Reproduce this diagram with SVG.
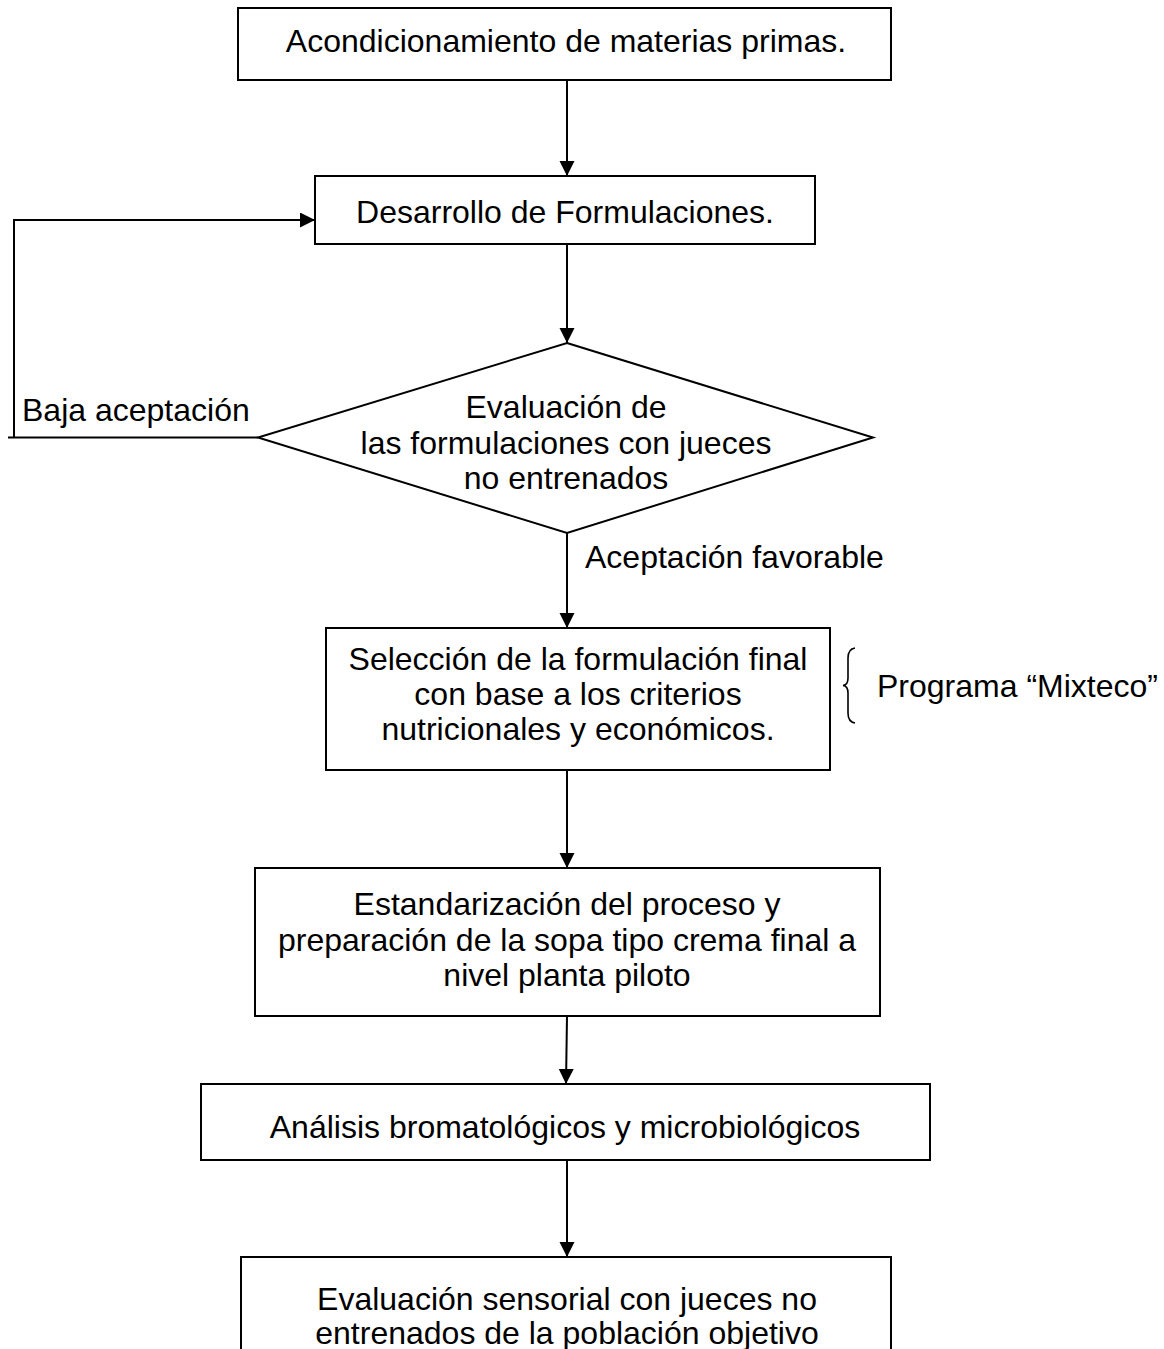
<svg xmlns="http://www.w3.org/2000/svg" width="1164" height="1349" viewBox="0 0 1164 1349">
<style>
.box{fill:#fff;stroke:#000;stroke-width:2}
.ln{fill:none;stroke:#000;stroke-width:2}
text{font-family:"Liberation Sans",Arial,sans-serif;font-size:32px;fill:#000}
.c{text-anchor:middle}
</style>
<defs>
<marker id="ah" markerUnits="userSpaceOnUse" markerWidth="16" markerHeight="16" refX="15" refY="7.5" orient="auto">
<path d="M0,0 L15,7.5 L0,15 z" fill="#000"/>
</marker>
</defs>
<rect width="1164" height="1349" fill="#fff"/>
<g id="connectors">
<line class="ln" x1="567" y1="80" x2="567" y2="176" marker-end="url(#ah)"/>
<line class="ln" x1="567" y1="244" x2="567" y2="343" marker-end="url(#ah)"/>
<polyline class="ln" points="258,437.5 8,437.5"/>
<polyline class="ln" points="14,437 14,220 315,220" marker-end="url(#ah)"/>
<line class="ln" x1="567" y1="533" x2="567" y2="628" marker-end="url(#ah)"/>
<line class="ln" x1="567" y1="770" x2="567" y2="868" marker-end="url(#ah)"/>
<line class="ln" x1="567" y1="1016" x2="566" y2="1084" marker-end="url(#ah)"/>
<line class="ln" x1="567" y1="1160" x2="567" y2="1257" marker-end="url(#ah)"/>
<text x="22" y="421">Baja aceptación</text>
<text x="585" y="568">Aceptación favorable</text>
</g>
<g id="n1">
<rect class="box" x="238" y="8" width="653" height="72"/>
<text class="c" x="566" y="52">Acondicionamiento de materias primas.</text>
</g>
<g id="n2">
<rect class="box" x="315" y="176" width="500" height="68"/>
<text class="c" x="565" y="223">Desarrollo de Formulaciones.</text>
</g>
<g id="n3">
<polygon class="box" points="567,343 873,437.5 567,533 258,437.5"/>
<text class="c" x="566" y="418">Evaluación de</text>
<text class="c" x="566" y="454">las formulaciones con jueces</text>
<text class="c" x="566" y="489">no entrenados</text>
</g>
<g id="n4">
<rect class="box" x="326" y="628" width="504" height="142"/>
<text class="c" x="578" y="670">Selección de la formulación final</text>
<text class="c" x="578" y="705">con base a los criterios</text>
<text class="c" x="578" y="740">nutricionales y económicos.</text>
</g>
<g id="n5">
<path d="M855,648 Q848,649 848,658 L848,678 Q848,685 843,685.5 Q848,686 848,693 L848,713 Q848,722 855,723" fill="none" stroke="#000" stroke-width="1.6"/>
<text x="877" y="697">Programa “Mixteco”</text>
</g>
<g id="n6">
<rect class="box" x="255" y="868" width="625" height="148"/>
<text class="c" x="567" y="915">Estandarización del proceso y</text>
<text class="c" x="567" y="951">preparación de la sopa tipo crema final a</text>
<text class="c" x="567" y="986">nivel planta piloto</text>
</g>
<g id="n7">
<rect class="box" x="201" y="1084" width="729" height="76"/>
<text class="c" x="565" y="1138">Análisis bromatológicos y microbiológicos</text>
</g>
<g id="n8">
<path class="ln" d="M241,1360 L241,1257 L891,1257 L891,1360"/>
<text class="c" x="567" y="1310">Evaluación sensorial con jueces no</text>
<text class="c" x="567" y="1344">entrenados de la población objetivo</text>
</g>
</svg>
